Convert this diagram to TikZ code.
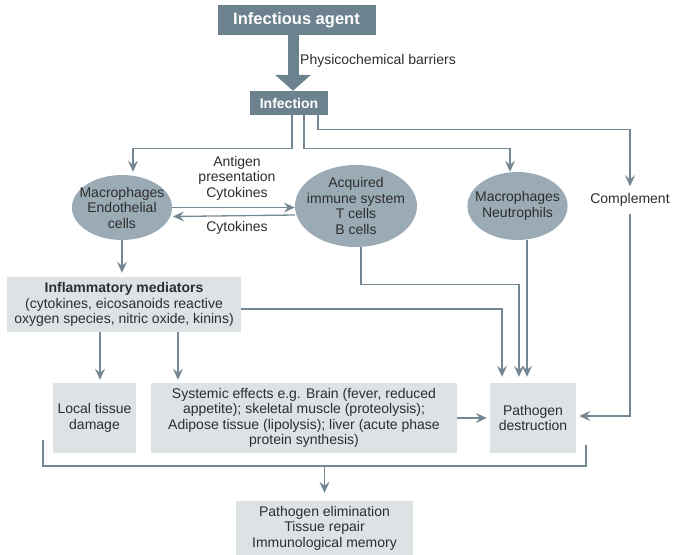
\documentclass[tikz,border=0pt]{standalone}
\usepackage{fontspec}
\setmainfont{Liberation Sans}
\usetikzlibrary{shapes.geometric,arrows.meta}
\definecolor{slate}{RGB}{108,130,143}
\definecolor{cellgray}{RGB}{155,171,181}
\definecolor{paleblue}{RGB}{221,226,229}
\definecolor{wirecol}{RGB}{115,136,148}
\definecolor{ink}{RGB}{45,45,45}
\begin{document}
\begin{tikzpicture}[x=1pt,y=-1pt,
    >={Stealth[length=11pt,width=10pt,inset=4pt]},
    txt/.style={text=ink,font=\fontsize{14}{15.5}\selectfont,align=center,inner sep=0pt},
    headbox/.style={fill=slate,text=white,font=\bfseries\fontsize{16.5}{18}\selectfont,inner sep=0pt},
    cell/.style={ellipse,fill=cellgray,txt,inner xsep=-7pt},
    box/.style={fill=paleblue,txt},
    wire/.style={draw=wirecol,line width=1.3pt}]
    \useasboundingbox (0,0) rectangle (673,555);
    \node [headbox,minimum width=158pt,minimum height=30pt] (agent) at (296.5,20) {Infectious agent};
    \node [headbox,font=\bfseries\fontsize{14}{16}\selectfont,minimum width=78pt,minimum height=24pt] (infection) at (289,103) {Infection};
    \node [txt,anchor=west] (barrier) at (300,61) {Physicochemical barriers};
    \node [cell,minimum width=100pt,minimum height=65pt] (mendo) at (122,207.5) {Macrophages\\Endothelial\\cells};
    \node [cell,minimum width=122pt,minimum height=82pt] (acq) at (356,206) {Acquired\\immune system\\T cells\\B cells};
    \node [cell,minimum width=99pt,minimum height=68pt] (mneu) at (517.5,206) {Macrophages\\Neutrophils};
    \node [txt] (compl) at (630,200) {Complement};
    \node [txt] (antigen) at (237,178) {Antigen\\presentation\\Cytokines};
    \node [txt] (cytok) at (237,228) {Cytokines};
    \node [box,minimum width=234pt,minimum height=55pt] (inflam) at (124,304.5) {\textbf{Inflammatory mediators}\\(cytokines, eicosanoids reactive\\oxygen species, nitric oxide, kinins)};
    \node [box,minimum width=83pt,minimum height=70pt] (local) at (94.5,418) {Local tissue\\damage};
    \node [box,minimum width=306pt,minimum height=70pt] (effects) at (304,418) {Systemic effects e.g. Brain (fever, reduced\\appetite); skeletal muscle (proteolysis);\\Adipose tissue (lipolysis); liver (acute phase\\protein synthesis)};
    \node [box,minimum width=86pt,minimum height=70pt] (destroy) at (533,418) {Pathogen\\destruction};
    \node [box,minimum width=177pt,minimum height=54pt] (outcome) at (324.5,528) {Pathogen elimination\\Tissue repair\\Immunological memory};
    \coordinate (brl) at (43,440);
    \coordinate (brr) at (586,445);
    \coordinate (merge) at (324.5,466);
    \draw [slate,line width=11pt,-{Triangle[length=16pt,width=35pt]}] ([xshift=-3.5pt]agent.south) -- ([xshift=4pt]infection.north);
    \draw [wire,->,shorten >=3pt] ([xshift=3pt]infection.south) -- ++(0,33) -| ([xshift=11pt]mendo.north);
    \draw [wire,->] ([xshift=15pt]infection.south) -- ++(0,33) -| ([xshift=-7.5pt]mneu.north);
    \draw [wire,->,shorten >=7pt] ([xshift=29pt]infection.south) -- ++(0,14) -| (compl.north);
    \draw [wire,->,shorten <=7pt,shorten >=3pt] (compl.south) |- ([yshift=2pt]destroy.east);
    \draw [wire,->] (mendo.east) -- (mendo.east -| acq.west);
    \draw [wire,->] ([yshift=-9pt]acq.west) -- ([xshift=51pt,yshift=-9pt]mendo.center);
    \draw [wire,->,shorten >=4pt] (mendo.south) -- (mendo.south |- inflam.north);
    \draw [wire,->,shorten >=3pt] ([xshift=-24pt]inflam.south) -- ([xshift=-24pt]inflam.south |- local.north);
    \draw [wire,->,shorten >=3pt] ([xshift=54pt]inflam.south) -- ([xshift=54pt]inflam.south |- effects.north);
    \draw [wire,->,shorten >=6pt] ([yshift=-4.5pt]inflam.east) -| ([xshift=-31pt]destroy.north);
    \draw [wire,->,shorten >=6pt] ([xshift=5pt]acq.south) -- ++(0,37) -| ([xshift=-14pt]destroy.north);
    \draw [wire,->,shorten >=6pt] ([xshift=9.5pt]mneu.south) -- ([xshift=-6pt]destroy.north);
    \draw [wire,->,shorten >=3pt] (effects.east) -- (destroy.west);
    \draw [wire] (brl) |- (merge) -| (brr);
    \draw [wire,->,shorten >=8pt] (merge) -- (outcome.north);
\end{tikzpicture}
\end{document}
